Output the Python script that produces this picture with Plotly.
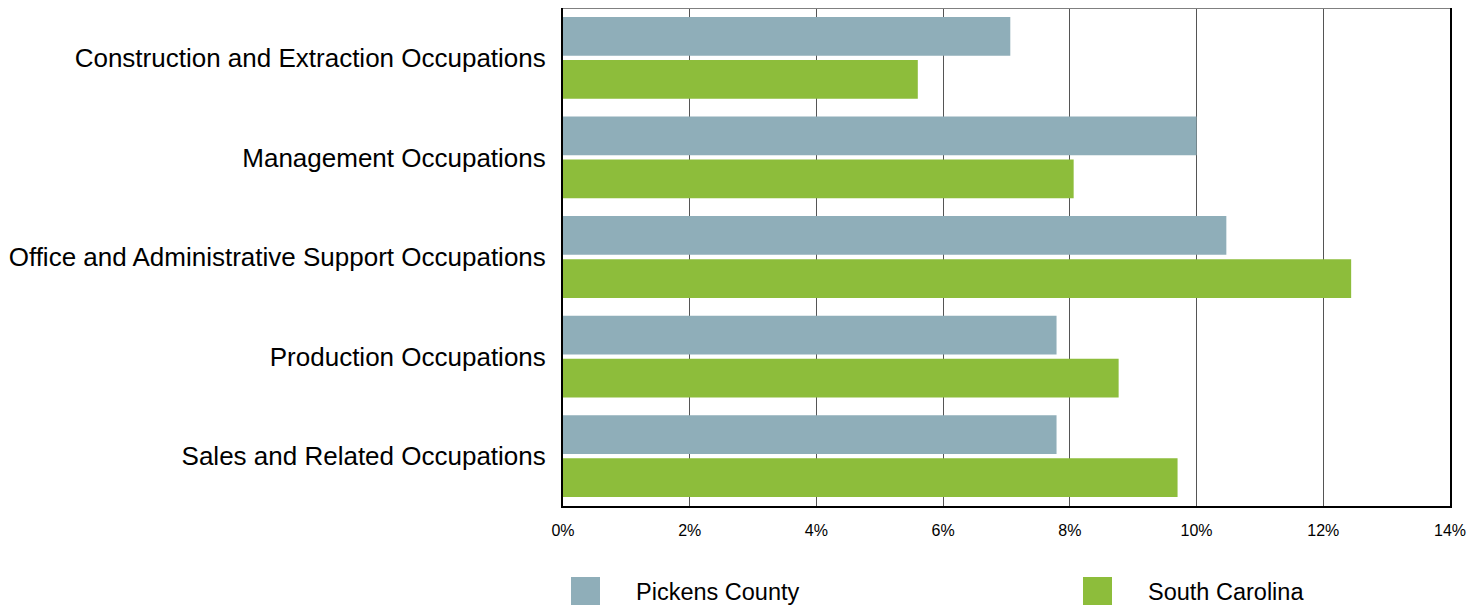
import plotly.graph_objects as go

categories = [
    "Construction and Extraction Occupations",
    "Management Occupations",
    "Office and Administrative Support Occupations",
    "Production Occupations",
    "Sales and Related Occupations",
]
series_names = ["Pickens County", "South Carolina"]
pickens = [7.06, 10.0, 10.47, 7.79, 7.79]
south_carolina = [5.6, 8.06, 12.44, 8.77, 9.7]
x_ticks = [0, 2, 4, 6, 8, 10, 12, 14]
x_tick_labels = [f"{v}%" for v in x_ticks]
colors = ["#8FAEB9", "#8DBD3B"]

FONT = "Liberation Sans, Arial, sans-serif"

fig = go.Figure()
for name, vals, col in zip(series_names, [pickens, south_carolina], colors):
    fig.add_trace(go.Bar(
        y=categories, x=vals, name=name, orientation="h",
        marker=dict(color=col, line=dict(width=0)),
        showlegend=False,
    ))

# page has an 8px body margin, so figure is 1476x598
W, H = 1476, 598
L, R, T, B = 555, 34, 0, 100
PW, PH = W - L - R, H - T - B

fig.update_layout(
    width=W, height=H,
    margin=dict(l=L, r=R, t=T, b=B, autoexpand=False),
    paper_bgcolor="white", plot_bgcolor="white",
    barmode="group", bargap=0.135, bargroupgap=0.1,
    font=dict(family=FONT, color="black"),
    xaxis=dict(
        range=[0, 14], tickmode="array", tickvals=x_ticks, ticktext=x_tick_labels,
        showgrid=True, gridcolor="#555555", gridwidth=1,
        showline=True, linecolor="black", linewidth=2,
        zeroline=False, ticks="", tickfont=dict(size=16, family=FONT),
        ticklabelstandoff=9,
    ),
    yaxis=dict(
        autorange="reversed", showgrid=False,
        showline=True, linecolor="black", linewidth=2, mirror=True,
        ticks="", tickfont=dict(size=26, family=FONT),
        ticklabelstandoff=10,
    ),
)

# top border
fig.add_shape(type="line", xref="paper", yref="paper", x0=0, x1=1, y0=1, y1=1,
              line=dict(color="#808080", width=2))

# manual legend with large square swatches (page pixel coords -> paper coords)
def px_x(p):
    return (p - 8 - L) / PW

def px_y(p):
    return ((H - B) - (p - 8)) / PH

legend_items = [(series_names[0], colors[0], 571), (series_names[1], colors[1], 1083)]
for name, col, px in legend_items:
    fig.add_shape(type="rect", xref="paper", yref="paper",
                  x0=px_x(px), x1=px_x(px + 29),
                  y0=px_y(605), y1=px_y(577),
                  fillcolor=col, line=dict(width=0))
    fig.add_annotation(xref="paper", yref="paper",
                       x=px_x(px + 65), y=px_y(592),
                       text=name, showarrow=False, xanchor="left", yanchor="middle",
                       xshift=-2,
                       font=dict(size=23.5, family=FONT, color="black"))

fig.write_html("out.html")
